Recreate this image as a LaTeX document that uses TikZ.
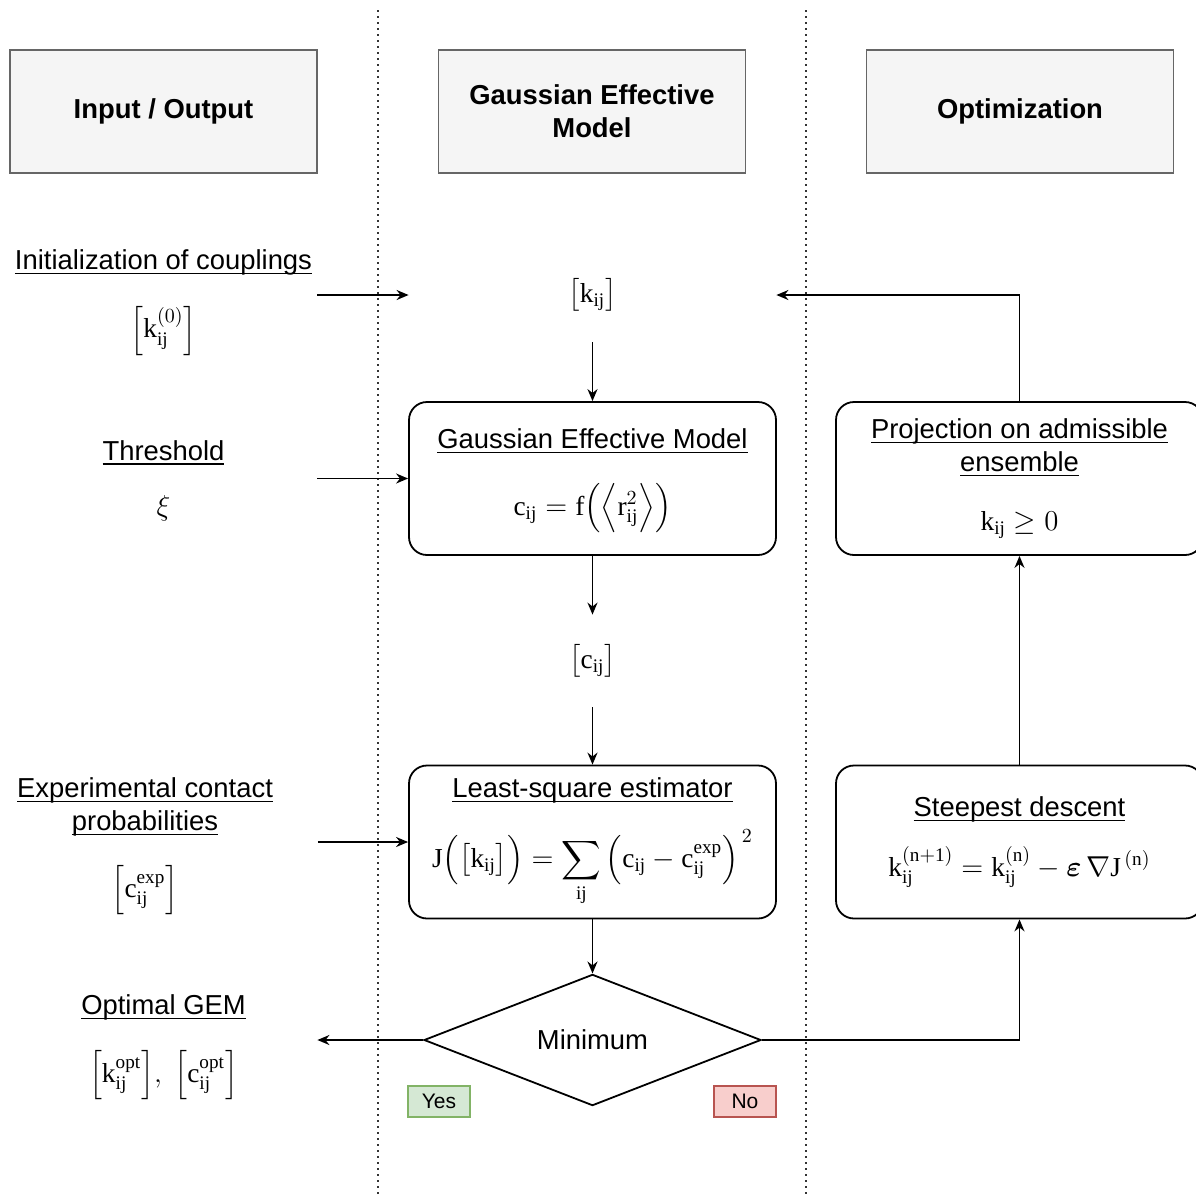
\documentclass[tikz,border=0pt]{standalone}
\usepackage{amsmath,amssymb}
\usepackage{fontspec}
\setmainfont{Liberation Sans}
\setmathrm{Liberation Serif}
\usepackage{xcolor}
\usepackage{tikz}
\usetikzlibrary{arrows.meta,positioning,shapes.geometric}

\definecolor{lanefill}{HTML}{F5F5F5}
\definecolor{laneline}{HTML}{666666}
\definecolor{yesfill}{HTML}{D5E8D4}
\definecolor{yesline}{HTML}{82B366}
\definecolor{nofill}{HTML}{F8CECC}
\definecolor{noline}{HTML}{B85450}

\newcommand{\mainsize}{\fontsize{13.7}{16.5}\selectfont}
\newcommand{\rij}[1]{\mathrm{#1}_{\mathrm{ij}}}
\newcommand{\ttl}[1]{\underline{\smash[b]{#1}}}

\tikzset{
  lane/.style={draw=laneline, line width=0.8pt, fill=lanefill, align=center, minimum width=153.5pt, minimum height=61.5pt, font=\mainsize\bfseries},
  block/.style={draw, rounded corners=9pt, line width=0.9pt, align=center, minimum width=183.5pt, minimum height=76.5pt},
  ghost/.style={align=center, minimum width=153.5pt, inner sep=0pt},
  decision/.style={draw, diamond, line width=0.9pt, minimum width=168.5pt, minimum height=64pt, inner sep=0pt},
  tag/.style={draw, line width=0.8pt, minimum width=31pt, minimum height=15.5pt, inner sep=0pt, font=\fontsize{10.5}{12}\selectfont},
  lanesep/.style={dash pattern=on 0.8pt off 2.2pt, line width=0.7pt, black!80},
  line/.style={-{Stealth[length=6pt,width=5pt]}, line width=0.9pt}
}

\begin{document}
\begin{tikzpicture}[x=0.5pt, y=-0.5pt, font=\mainsize]
  \useasboundingbox (0,0) rectangle (1196,1196);

  % column headers and lane separators
  \node[lane] (hio) at (163.5,111.5) {Input / Output};
  \node[lane] (hgem) at (592,111.5) {Gaussian Effective\\Model};
  \node[lane] (hopt) at (1020,111.5) {Optimization};
  \draw[lanesep] (378,10) -- (378,1196);
  \draw[lanesep] (806,10) -- (806,1196);

  % inputs / output
  \node[ghost] (init) at (163.5,303) {\ttl{Initialization of couplings}\\[14pt] $\Big[\rij{k}^{(0)}\Big]$};
  \node[ghost] (thr) at (163.5,480.5) {\ttl{Threshold}\\[11pt] $\xi$};
  \node[ghost, minimum width=172.5pt] (exp) at (145,847) {\ttl{Experimental contact}\\\ttl{probabilities}\\[13pt] $\Big[\rij{c}^{\mathrm{exp}}\Big]$};
  \node[ghost] (opt) at (163.5,1048) {\ttl{Optimal GEM}\\[13.5pt] $\Big[\rij{k}^{\mathrm{opt}}\Big],\ \Big[\rij{c}^{\mathrm{opt}}\Big]$};

  % model
  \node[ghost, minimum width=183.5pt, minimum height=47pt] (kin) at (592.5,295) {$\big[\rij{k}\big]$};
  \node[block] (gem) at (592.5,478.5) {\rule{0pt}{13pt}\ttl{Gaussian Effective Model}\\[13pt] $\rij{c} = \mathrm{f}\Big(\Big\langle \rij{r}^{2}\Big\rangle\Big)$};
  \node[ghost, minimum width=183.5pt, minimum height=46pt] (cc) at (592.5,661) {$\big[\rij{c}\big]$};
  \node[block] (lse) at (592.5,842) {\ttl{Least-square estimator}\\[12pt] $\displaystyle \mathrm{J}\Big(\big[\rij{k}\big]\Big) = \sum_{\mathrm{ij}}\Big(\rij{c} - \rij{c}^{\mathrm{exp}}\Big)^{\,2}$};
  \node[decision] (dec) at (592.5,1040) {Minimum};
  \node[tag, fill=yesfill, draw=yesline] (yes) at (439,1101.5) {Yes};
  \node[tag, fill=nofill, draw=noline] (no) at (745,1101.5) {No};

  % optimization
  \node[block] (proj) at (1019.5,478.5) {\ttl{Projection on admissible}\\\ttl{ensemble}\\[13pt] $\rij{k} \geq 0$};
  \node[block] (sd) at (1019.5,842) {\ttl{Steepest descent}\\[11pt] $\rij{k}^{(\mathrm{n+1})} = \rij{k}^{(\mathrm{n})} - \boldsymbol{\varepsilon}\,\nabla \mathrm{J}^{\,(\mathrm{n})}$};

  \draw[line] (init.east |- kin.west) -- (kin.west);
  \draw[line] (thr.east |- gem.west) -- (gem.west);
  \draw[line] (exp.east |- lse.west) -- (lse.west);
  \draw[line] (kin) -- (gem);
  \draw[line] (gem) -- (cc);
  \draw[line] (cc) -- (lse);
  \draw[line] (lse) -- (dec);
  \draw[line] (dec.west) -- (opt.east |- dec.west);
  \draw[line] (dec.east) -| (sd.south);
  \draw[line] (sd) -- (proj);
  \draw[line] (proj.north) |- (kin.east);
\end{tikzpicture}
\end{document}
